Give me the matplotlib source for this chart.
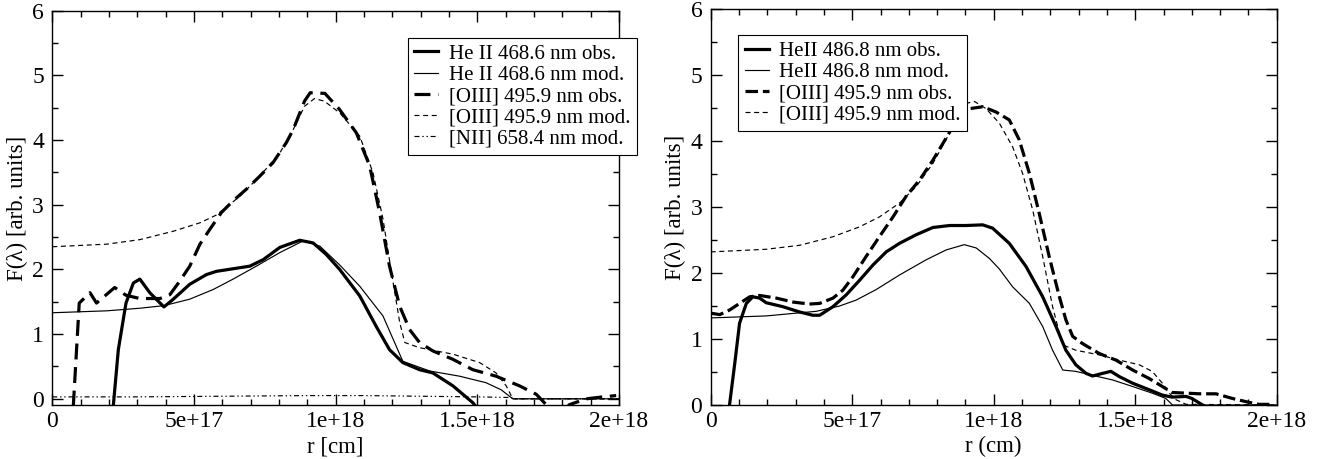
import numpy as np
import matplotlib
matplotlib.use("Agg")
import matplotlib.pyplot as plt
from matplotlib.ticker import MultipleLocator

plt.rcParams["font.family"] = ["Liberation Serif", "DejaVu Serif"]
plt.rcParams["font.size"] = 16
plt.rcParams["lines.scale_dashes"] = False

# Data (r in units of 1e17 cm) ##########################################################
# left panel
heii_obs_l_r = [2.15, 2.33, 2.6, 2.86, 3.09, 3.44, 3.94, 4.27, 4.85, 5.44, 5.79, 6.38, 6.97, 7.44,
                8.03, 8.73, 9.2, 9.67, 10.14, 10.85, 11.43, 11.9, 12.37, 12.96, 13.43, 14.14, 14.84, 15.2]
heii_obs_l_f = [-0.12, 0.76, 1.48, 1.79, 1.85, 1.64, 1.42, 1.54, 1.77, 1.92, 1.97, 2.01, 2.05, 2.15,
                2.34, 2.45, 2.41, 2.23, 2.0, 1.59, 1.12, 0.76, 0.56, 0.45, 0.40, 0.2, -0.06, -0.25]

heii_mod_l_r = [0, 1.92, 3.09, 3.94, 4.85, 5.68, 6.38, 7.2, 8.03, 8.85, 9.44, 10.14, 10.85, 11.67,
                12.37, 13.32, 14.37, 15.3, 15.84, 16.25, 20]
heii_mod_l_f = [1.33, 1.36, 1.40, 1.44, 1.54, 1.69, 1.85, 2.05, 2.26, 2.44, 2.36, 2.07, 1.74, 1.28,
                0.58, 0.43, 0.35, 0.25, 0.14, 0.0, 0.0]

oiii_obs_l_r = [0.74, 0.95, 1.33, 1.56, 2.2, 2.6, 3.09, 3.8, 4.15, 4.5, 4.85, 5.21, 5.56, 5.97, 6.38,
                6.85, 7.32, 7.79, 8.26, 8.5, 8.9, 9.1, 9.62, 10.14, 10.73, 11.2, 11.55, 11.9, 12.26,
                12.61, 12.96, 13.43, 14.14, 14.84, 15.66, 16.49, 17.08, 17.43, 17.8, 18.25, 18.84,
                19.43, 19.9]
oiii_obs_l_f = [-0.12, 1.48, 1.64, 1.48, 1.72, 1.6, 1.55, 1.55, 1.61, 1.82, 2.05, 2.39, 2.62, 2.88,
                3.06, 3.24, 3.44, 3.65, 3.96, 4.16, 4.6, 4.73, 4.72, 4.47, 4.11, 3.6, 2.88, 2.05, 1.43,
                1.07, 0.87, 0.74, 0.61, 0.45, 0.35, 0.20, 0.07, -0.09, -0.3, -0.09, 0.0, 0.03, 0.05]

oiii_mod_l_r = [0, 1.92, 3.09, 4.27, 5.21, 5.79, 6.62, 7.32, 8.03, 8.5, 8.9, 9.25, 9.6, 10.14, 10.85,
                11.32, 11.67, 11.97, 12.26, 12.44, 12.96, 14.14, 15.08, 15.66, 16.02, 16.25, 20]
oiii_mod_l_f = [2.35, 2.39, 2.46, 2.59, 2.72, 2.84, 3.13, 3.44, 3.80, 4.16, 4.52, 4.64, 4.6, 4.42, 4.06,
                3.49, 2.78, 1.95, 1.18, 0.87, 0.79, 0.69, 0.56, 0.40, 0.2, 0.0, 0.0]

nii_mod_l_r = [0, 3, 6, 9, 11, 13, 15, 16.2, 16.3, 20]
nii_mod_l_f = [0.03, 0.03, 0.04, 0.05, 0.05, 0.04, 0.03, 0.02, 0.0, 0.0]

# right panel
heii_obs_r_r = [0.65, 0.85, 1.02, 1.26, 1.49, 1.73, 1.96, 2.55, 3.14, 3.61, 3.85, 4.32, 4.79, 5.26,
                5.73, 6.2, 6.67, 7.26, 7.85, 8.44, 9.02, 9.61, 9.96, 10.55, 11.14, 11.73, 12.2, 12.55,
                12.9, 13.26, 13.49, 13.85, 14.14, 14.44, 14.91, 15.5, 15.96, 16.3, 16.8, 17.0, 17.38]
heii_obs_r_f = [-0.05, 0.63, 1.24, 1.54, 1.64, 1.62, 1.55, 1.49, 1.41, 1.36, 1.36, 1.49, 1.67, 1.89,
                2.12, 2.32, 2.45, 2.58, 2.69, 2.72, 2.72, 2.73, 2.68, 2.45, 2.1, 1.64, 1.19, 0.83,
                0.61, 0.48, 0.44, 0.48, 0.51, 0.43, 0.33, 0.23, 0.15, 0.12, 0.13, 0.1, 0.0]

heii_mod_r_r = [0, 1.96, 3.73, 4.55, 5.14, 5.85, 6.67, 7.61, 8.32, 8.96, 9.38, 9.85, 10.2, 10.67,
                11.26, 11.73, 12.08, 12.44, 12.9, 13.49, 14.2, 14.91, 15.6, 16.08, 16.32, 20]
heii_mod_r_f = [1.32, 1.35, 1.42, 1.5, 1.59, 1.75, 1.97, 2.2, 2.35, 2.43, 2.38, 2.22, 2.06, 1.79,
                1.54, 1.19, 0.83, 0.53, 0.51, 0.45, 0.38, 0.28, 0.18, 0.1, 0.0, 0.0]

oiii_obs_r_r = [0.02, 0.32, 0.67, 1.02, 1.38, 1.73, 2.32, 2.91, 3.49, 3.85, 4.32, 4.67, 5.02, 5.49,
                5.96, 6.44, 6.9, 7.38, 7.85, 8.2, 8.49, 8.79, 9.14, 9.62, 10.08, 10.55, 10.9, 11.26,
                11.61, 11.96, 12.32, 12.55, 12.79, 13.14, 13.73, 14.32, 14.91, 15.5, 15.96, 16.3,
                16.8, 17.27, 17.85, 18.43, 19.02, 19.38, 19.85]
oiii_obs_r_f = [1.39, 1.37, 1.44, 1.54, 1.64, 1.66, 1.62, 1.56, 1.53, 1.54, 1.62, 1.74, 1.94, 2.25,
                2.55, 2.85, 3.16, 3.41, 3.71, 3.96, 4.17, 4.37, 4.49, 4.52, 4.44, 4.32, 4.02, 3.51,
                2.9, 2.25, 1.64, 1.29, 1.04, 0.93, 0.78, 0.68, 0.53, 0.4, 0.28, 0.19, 0.18, 0.17,
                0.17, 0.1, 0.04, 0.01, 0.01]

oiii_mod_r_r = [0, 1.96, 3.14, 4.32, 5.26, 5.96, 6.67, 7.26, 7.85, 8.44, 8.79, 9.02, 9.32, 9.73, 10.2,
                10.67, 11.02, 11.38, 11.73, 12.08, 12.32, 12.44, 12.9, 13.73, 14.44, 15.14, 15.6,
                15.96, 16.2, 16.44, 16.8, 20]
oiii_mod_r_f = [2.32, 2.36, 2.42, 2.55, 2.70, 2.85, 3.06, 3.31, 3.66, 4.12, 4.42, 4.57, 4.6, 4.49, 4.27,
                3.91, 3.51, 2.95, 2.25, 1.49, 1.09, 0.91, 0.83, 0.76, 0.68, 0.61, 0.51, 0.33, 0.18,
                0.08, 0.01, 0.0]

xticks = [0, 5e17, 1e18, 1.5e18, 2e18]
xticklabels = ["0", "5e+17", "1e+18", "1.5e+18", "2e+18"]
yticks = [0, 1, 2, 3, 4, 5, 6]

# Styles ##################################################################################
thick = 2.3
thin = 0.85
dash_long = (0, (11.5, 5.5))
dash_obs_r = (0, (9.0, 3.5))
dash_mod = (0, (3.6, 2.6))
dash_dotdot = (0, (3.6, 2.0, 1.0, 2.0, 1.0, 2.0))

def rr(v):
    return np.array(v) * 1e17

def style_axes(ax, ymin, xlabel):
    ax.set_xlim(0, 2e18)
    ax.set_ylim(ymin, 6)
    ax.set_xticks(xticks)
    ax.set_xticklabels(xticklabels)
    ax.set_yticks(yticks)
    ax.xaxis.set_minor_locator(MultipleLocator(1e17))
    ax.yaxis.set_minor_locator(MultipleLocator(0.5))
    ax.tick_params(which="both", direction="in", top=True, right=True, labelsize=17, width=1.0)
    ax.tick_params(which="major", length=8)
    ax.tick_params(which="minor", length=4.5)
    ax.tick_params(axis="x", which="major", pad=4)
    ax.tick_params(axis="y", which="major", pad=6)
    for s in ax.spines.values():
        s.set_linewidth(1.0)
    ax.set_xlabel(xlabel, fontsize=16.5, labelpad=3)
    ax.set_ylabel("F(λ) [arb. units]", fontsize=16.5, labelpad=3)

fig = plt.figure(figsize=(13.21, 4.59), dpi=100)
ax1 = fig.add_axes([0.0396, 0.117, 0.429, 0.860])
ax2 = fig.add_axes([0.538, 0.1176, 0.4285, 0.8627])

# Left panel ##############################################################################
ax1.plot(rr(heii_obs_l_r), heii_obs_l_f, color="k", lw=thick, label="He II 468.6 nm obs.")
ax1.plot(rr(heii_mod_l_r), heii_mod_l_f, color="k", lw=thin, label="He II 468.6 nm mod.")
ax1.plot(rr(oiii_obs_l_r), oiii_obs_l_f, color="k", lw=thick, ls=dash_long, label="[OIII] 495.9 nm obs.")
ax1.plot(rr(oiii_mod_l_r), oiii_mod_l_f, color="k", lw=thin, ls=dash_mod, label="[OIII] 495.9 nm mod.")
ax1.plot(rr(nii_mod_l_r), nii_mod_l_f, color="k", lw=thin, ls=dash_dotdot, label="[NII] 658.4 nm mod.")
style_axes(ax1, -0.1, "r [cm]")
leg1 = ax1.legend(loc="upper left", bbox_to_anchor=(0.628, 0.931), fontsize=15, frameon=True,
                  fancybox=False, edgecolor="k", framealpha=1, handlelength=1.15,
                  handletextpad=0.5, labelspacing=0.08, borderpad=0.3, borderaxespad=0)
leg1.get_frame().set_linewidth(0.8)

# Right panel #############################################################################
ax2.plot(rr(heii_obs_r_r), heii_obs_r_f, color="k", lw=thick, label="HeII 486.8 nm obs.")
ax2.plot(rr(heii_mod_r_r), heii_mod_r_f, color="k", lw=thin, label="HeII 486.8 nm mod.")
ax2.plot(rr(oiii_obs_r_r), oiii_obs_r_f, color="k", lw=thick, ls=dash_obs_r, label="[OIII] 495.9 nm obs.")
ax2.plot(rr(oiii_mod_r_r), oiii_mod_r_f, color="k", lw=thin, ls=dash_mod, label="[OIII] 495.9 nm mod.")
style_axes(ax2, 0, "r (cm)")
leg2 = ax2.legend(loc="upper left", bbox_to_anchor=(0.049, 0.934), fontsize=15, frameon=True,
                  fancybox=False, edgecolor="k", framealpha=1, handlelength=1.15,
                  handletextpad=0.5, labelspacing=0.08, borderpad=0.3, borderaxespad=0)
leg2.get_frame().set_linewidth(0.8)

fig.savefig("out.png", dpi=100)
